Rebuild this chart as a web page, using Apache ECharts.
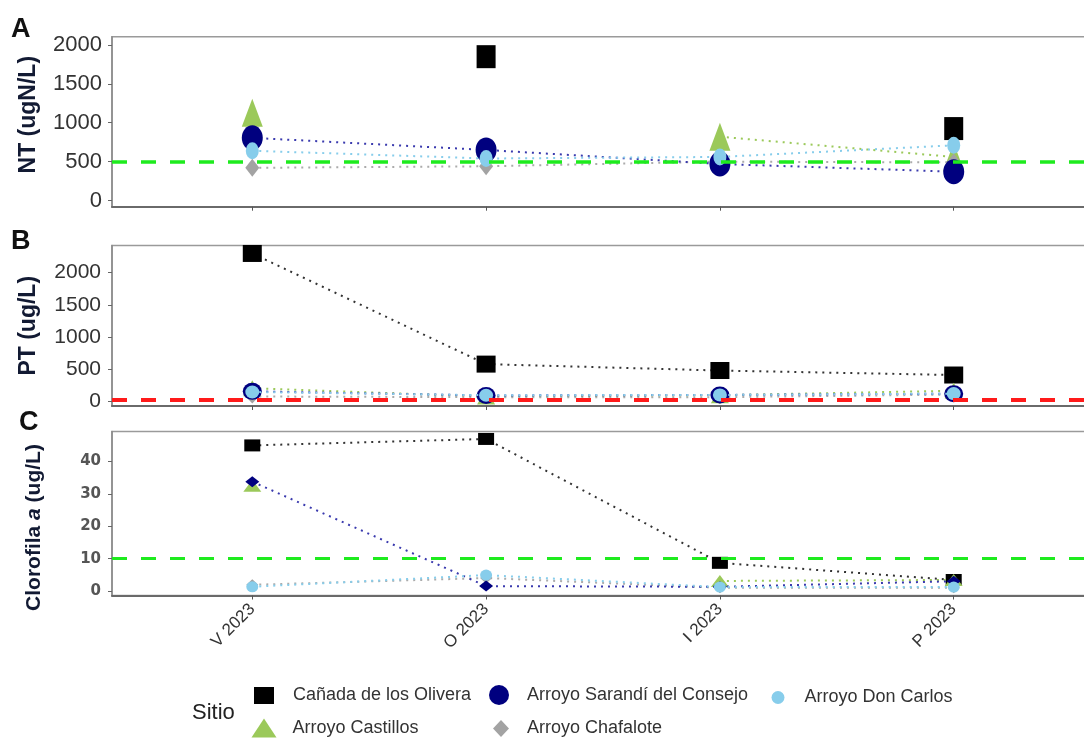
<!DOCTYPE html>
<html>
<head>
<meta charset="utf-8">
<script src="https://cdn.jsdelivr.net/npm/echarts@6/dist/echarts.min.js"></script>
<style>html,body{margin:0;padding:0;background:#fff}#c{width:1084px;height:738px}</style>
</head>
<body>
<div id="c"></div>
<script>
// ---------- DATA ----------
const categories = ['V 2023', 'O 2023', 'I 2023', 'P 2023'];

const siteNames = {
  canada: 'Cañada de los Olivera',
  castillos: 'Arroyo Castillos',
  chafalote: 'Arroyo Chafalote',
  sarandi: 'Arroyo Sarandí del Consejo',
  donCarlos: 'Arroyo Don Carlos'
};

// Panel A: NT (ugN/L)
const nt_canada    = [null, 1850, null, 925];
const nt_castillos = [1130, null, 820, 560];
const nt_chafalote = [420, 440, 500, 490];
const nt_sarandi   = [806, 650, 470, 370];
const nt_donCarlos = [640, 540, 560, 710];

// Panel B: PT (ug/L)
const pt_canada    = [2300, 575, 475, 405];
const pt_castillos = [200, 70, 90, 160];
const pt_chafalote = [70, 60, 60, 100];
const pt_sarandi   = [150, 86, 94, 114];
const pt_donCarlos = [140, 90, 94, 115];

// Panel C: Clorofila a (ug/L)
const chl_canada    = [45, 47, 8.7, 3.4];
const chl_castillos = [32.5, null, 3.1, 3.4];
const chl_chafalote = [1.9, 4.0, 1.0, 1.0];
const chl_sarandi   = [33.8, 1.5, 1.3, 3.0];
const chl_donCarlos = [1.3, 4.9, 1.2, 1.2];

// Reference thresholds
const thresholdNT = 500;
const thresholdPT = 25;
const thresholdChl = 10;

// Tick labels
const ntTicks = [0, 500, 1000, 1500, 2000];
const ptTicks = [0, 500, 1000, 1500, 2000];
const chlTicks = [0, 10, 20, 30, 40];

// ---------- STYLE ----------
const drawOrder = ['canada', 'castillos', 'chafalote', 'sarandi', 'donCarlos'];
const colors = {
  canada: '#000000', castillos: '#9BC95A', chafalote: '#A3A3A3',
  sarandi: '#00007F', donCarlos: '#87CDEB'
};
const lineColors = {
  canada: '#333333', castillos: '#9BC95A', chafalote: '#ABABAB',
  sarandi: '#3A3AAE', donCarlos: '#87CDEB'
};
const FONT = "'Liberation Sans',Arial,sans-serif";

const panels = [
  {
    data: {canada: nt_canada, castillos: nt_castillos, chafalote: nt_chafalote, sarandi: nt_sarandi, donCarlos: nt_donCarlos},
    ticks: ntTicks, threshold: thresholdNT, thrColor: '#1EEB1E', thrWidth: 3.5,
    top: 36.7, height: 170, min: -80, max: 2107,
    name: 'NT (ugN/L)', nameGap: 72, nameSize: 23, namePad: [0, 0, 0, 14],
    labelFont: {fontSize: 22, fontFamily: FONT, color: '#333', margin: 10},
    symbols: {canada: 'rect', castillos: 'triangle', chafalote: 'diamond', sarandi: 'circle', donCarlos: 'circle'},
    sizes: {canada: [19, 23], castillos: [21, 28], chafalote: [14, 18], sarandi: [21, 25], donCarlos: [13, 17]},
    showX: false
  },
  {
    data: {canada: pt_canada, castillos: pt_castillos, chafalote: pt_chafalote, sarandi: pt_sarandi, donCarlos: pt_donCarlos},
    ticks: ptTicks, threshold: thresholdPT, thrColor: '#FF1A1A', thrWidth: 4,
    top: 245.5, height: 160.5, min: -78, max: 2424,
    name: 'PT (ug/L)', nameGap: 72, nameSize: 23, namePad: [0, 0, 0, 0],
    labelFont: {fontSize: 21, fontFamily: FONT, color: '#333', margin: 11},
    symbols: {canada: 'rect', castillos: 'triangle', chafalote: 'diamond', sarandi: 'circle', donCarlos: 'circle'},
    sizes: {canada: [19, 17], castillos: [18, 16], chafalote: [13, 14], sarandi: [19, 17], donCarlos: [14, 13]},
    showX: false
  },
  {
    data: {canada: chl_canada, castillos: chl_castillos, chafalote: chl_chafalote, sarandi: chl_sarandi, donCarlos: chl_donCarlos},
    ticks: chlTicks, threshold: thresholdChl, thrColor: '#1EEB1E', thrWidth: 3,
    top: 431.5, height: 164, min: -1.4, max: 49.3,
    name: 'Clorofila {i|a} (ug/L)', nameGap: 67, nameSize: 21, namePad: [0, 28, 0, 0],
    labelFont: {fontSize: 15, fontWeight: 'bold', fontFamily: "'DejaVu Sans',sans-serif", color: '#555', margin: 11},
    symbols: {canada: 'rect', castillos: 'triangle', chafalote: 'diamond', sarandi: 'diamond', donCarlos: 'circle'},
    sizes: {canada: [16, 12], castillos: [18, 12], chafalote: [12, 11], sarandi: [14, 11], donCarlos: [12, 11]},
    showX: true
  }
];

const titleColor = '#121a33';
const grids = [], xAxes = [], yAxes = [], series = [];

panels.forEach((p, pi) => {
  grids.push({
    left: 112, right: -10, top: p.top, height: p.height,
    show: true, borderColor: '#9a9a9a', borderWidth: 1.5,
    containLabel: false, outerBoundsMode: 'none'
  });
  xAxes.push({
    type: 'value', gridIndex: pi, min: -0.6, max: 3.6,
    splitLine: {show: false},
    axisLine: {show: true, onZero: false, lineStyle: {color: '#6a6a6a', width: 2}},
    axisTick: {show: true, length: 4, customValues: [0, 1, 2, 3], lineStyle: {color: '#555', width: 1}},
    axisLabel: {
      show: p.showX, customValues: [0, 1, 2, 3], rotate: 45, margin: 11,
      fontSize: 17, color: '#333', fontFamily: FONT,
      formatter: v => categories[Math.round(v)] || ''
    }
  });
  yAxes.push({
    type: 'value', gridIndex: pi, min: p.min, max: p.max,
    splitLine: {show: false},
    axisLine: {show: true, onZero: false, lineStyle: {color: '#8a8a8a', width: 1.5}},
    axisTick: {show: true, length: 4, customValues: p.ticks, lineStyle: {color: '#666', width: 1}},
    axisLabel: Object.assign({customValues: p.ticks, formatter: v => String(v)}, p.labelFont),
    name: p.name, nameLocation: 'middle', nameGap: p.nameGap, nameRotate: 90,
    nameTextStyle: {
      fontSize: p.nameSize, fontWeight: 'bold', color: titleColor, fontFamily: FONT, padding: p.namePad,
      rich: {i: {fontSize: p.nameSize, fontWeight: 'bold', fontStyle: 'italic', color: titleColor, fontFamily: FONT}}
    }
  });
  drawOrder.forEach((k, si) => {
    series.push({
      type: 'line', name: siteNames[k], xAxisIndex: pi, yAxisIndex: pi,
      data: p.data[k].map((v, i) => [i, v == null ? '-' : v]),
      connectNulls: false,
      symbol: p.symbols[k], symbolSize: p.sizes[k], showSymbol: true,
      itemStyle: {color: colors[k], borderWidth: 0, opacity: 1},
      lineStyle: {color: lineColors[k], width: 2, type: [2, 5]},
      z: 2 + si * 0.1, silent: true, animation: false
    });
  });
  series.push({
    type: 'line', name: 'umbral' + pi, xAxisIndex: pi, yAxisIndex: pi, data: [],
    z: 5, silent: true, animation: false,
    markLine: {
      symbol: 'none', silent: true, label: {show: false}, animation: false,
      lineStyle: {color: p.thrColor, width: p.thrWidth, type: [15, 14]},
      data: [{yAxis: p.threshold}]
    }
  });
});

const legendSpec = [
  {k: 'canada', icon: 'rect', left: 254, top: 686.5, w: 20, h: 17, pad: 14},
  {k: 'sarandi', icon: 'circle', left: 489, top: 685, w: 20, h: 20, pad: 13},
  {k: 'donCarlos', icon: 'circle', left: 771.5, top: 688.5, w: 13, h: 13, pad: 15},
  {k: 'castillos', icon: 'triangle', left: 251.5, top: 718.5, w: 25, h: 19, pad: 11},
  {k: 'chafalote', icon: 'diamond', left: 493, top: 719.5, w: 16, h: 17, pad: 13}
];

const option = {
  animation: false,
  backgroundColor: '#ffffff',
  textStyle: {fontFamily: FONT},
  grid: grids, xAxis: xAxes, yAxis: yAxes, series: series,
  legend: legendSpec.map(s => ({
    data: [{name: siteNames[s.k], icon: s.icon}],
    left: s.left, top: s.top, itemWidth: s.w, itemHeight: s.h,
    padding: 0, itemGap: 0, selectedMode: false,
    itemStyle: {borderWidth: 0},
    textStyle: {fontSize: 18, color: '#333', padding: [0, 0, 0, s.pad], fontFamily: FONT}
  })),
  graphic: [
    {type: 'text', left: 11, top: 16, style: {text: 'A', fontSize: 27, fontWeight: 'bold', fill: '#111', fontFamily: FONT}},
    {type: 'text', left: 11, top: 228, style: {text: 'B', fontSize: 27, fontWeight: 'bold', fill: '#111', fontFamily: FONT}},
    {type: 'text', left: 19, top: 409, style: {text: 'C', fontSize: 27, fontWeight: 'bold', fill: '#111', fontFamily: FONT}},
    {type: 'text', left: 192, top: 702, style: {text: 'Sitio', fontSize: 22, fill: '#222', fontFamily: FONT}}
  ]
};

const chart = echarts.init(document.getElementById('c'), null, {renderer: 'canvas'});
chart.setOption(option);
</script>
</body>
</html>
